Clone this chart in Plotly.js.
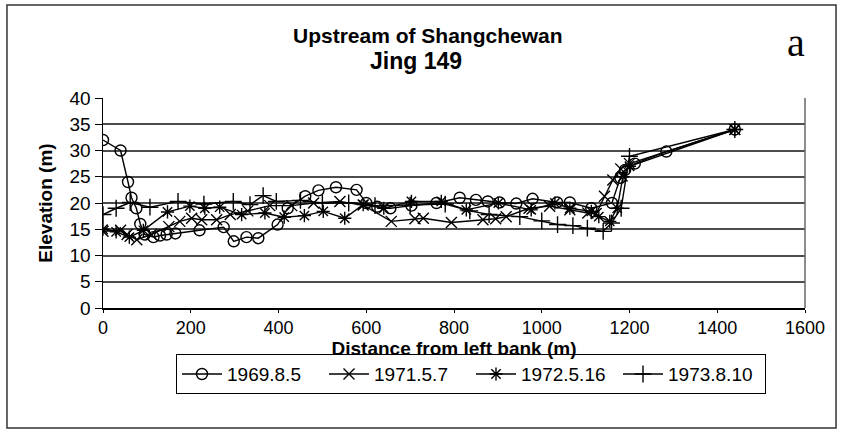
<!DOCTYPE html>
<html>
<head>
<meta charset="utf-8">
<script src="https://cdn.plot.ly/plotly-3.0.1.min.js"></script>
<style>
  html, body { margin: 0; padding: 0; background: #fff; }
  #chart { width: 841px; height: 436px; }
</style>
</head>
<body>
<div id="chart"></div>
<script>
// Cross-section survey profiles, Jing 149 (distance in m, elevation in m)
const seriesNames = ['1969.8.5', '1971.5.7', '1972.5.16', '1973.8.10'];

const dist1969 = [0, 40, 57, 65, 76, 85, 95, 115, 130, 145, 165, 220, 275, 298, 327, 354, 398, 421, 461, 491, 531, 578, 600, 625, 655, 703, 760, 813, 850, 877, 904, 942, 979, 1035, 1064, 1113, 1160, 1179, 1190, 1212, 1284, 1440];
const elev1969 = [32, 30, 24, 21, 19, 16, 14, 13.5, 13.8, 14, 14.2, 14.8, 15.4, 12.7, 13.5, 13.3, 15.9, 19, 21.3, 22.4, 23, 22.5, 20, 19.3, 19, 19.5, 20, 21, 20.6, 20.3, 20.1, 19.9, 20.8, 20.1, 20.1, 19, 20, 24.8, 26.3, 27.5, 29.8, 34];

const dist1971 = [0, 40, 55, 77, 110, 150, 175, 202, 225, 259, 290, 330, 380, 430, 480, 540, 593, 657, 711, 730, 794, 866, 895, 919, 971, 1018, 1064, 1105, 1124, 1143, 1162, 1180, 1200, 1440];
const elev1971 = [14.6, 14.8, 14, 13, 14, 15.5, 16.5, 17.1, 16.8, 16.8, 17.8, 18.5, 19.5, 19.5, 20, 20.3, 19.6, 16.5, 17, 17.1, 16.3, 16.8, 17, 17.4, 19, 19.4, 18.7, 18.1, 18, 21.3, 24.4, 26.5, 27.5, 34];

const dist1972 = [0, 30, 60, 92, 147, 198, 232, 266, 316, 369, 413, 459, 502, 551, 593, 640, 703, 771, 828, 901, 976, 1030, 1064, 1113, 1130, 1155, 1172, 1185, 1200, 1440];
const elev1972 = [15, 14.5, 13.5, 14.8, 18.3, 19.4, 19, 19.2, 17.8, 18.1, 17.3, 17.6, 18.4, 17.1, 19.7, 19, 20.3, 20.3, 18.7, 20, 18.7, 20, 19, 18.4, 17.4, 16.5, 19, 25, 27, 34];

const dist1973 = [0, 30, 62, 107, 171, 230, 297, 335, 365, 395, 450, 500, 560, 620, 700, 780, 836, 880, 950, 1000, 1036, 1071, 1104, 1140, 1159, 1181, 1200, 1440];
const elev1973 = [17.8, 19, 20.1, 19.2, 20.3, 19.8, 20.3, 19.7, 21.4, 20.3, 20.5, 20, 20, 19.5, 19.6, 19.8, 18.5, 17.8, 17.4, 16.6, 15.9, 15.7, 15.2, 14.6, 16.2, 19, 28.9, 34];

const xTicks = [0, 200, 400, 600, 800, 1000, 1200, 1400, 1600];
const yTicks = [0, 5, 10, 15, 20, 25, 30, 35, 40];

const symbols = ['circle-open', 'x-thin-open', 'asterisk-open', 'cross-thin-open'];
const sizes = [11, 11, 11, 12];
const xs = [dist1969, dist1971, dist1972, dist1973];
const ys = [elev1969, elev1971, elev1972, elev1973];

const traces = seriesNames.map((name, i) => ({
  type: 'scatter',
  mode: 'lines+markers',
  name: name,
  x: xs[i],
  y: ys[i],
  line: { color: '#000', width: 1.4 },
  marker: { symbol: symbols[i], size: sizes[i], color: '#000', line: { color: '#000', width: 1.4 } }
}));

const font = 'Liberation Sans, Arial, sans-serif';

const layout = {
  width: 841,
  height: 436,
  paper_bgcolor: '#fff',
  plot_bgcolor: '#fff',
  margin: { l: 103, r: 36, t: 98, b: 128 },
  showlegend: true,
  font: { family: font, color: '#000', size: 18 },
  xaxis: {
    range: [0, 1600],
    tickvals: xTicks,
    ticktext: xTicks.map(String),
    showgrid: false,
    zeroline: false,
    showline: true,
    linecolor: '#000',
    linewidth: 1.5,
    ticks: 'outside',
    ticklen: 3,
    tickcolor: '#000',
    tickfont: { size: 18, family: font },
    title: { text: '<b>Distance from left bank (m)</b>', font: { size: 19, family: font }, standoff: 0 }
  },
  yaxis: {
    range: [0, 40],
    tickvals: yTicks,
    ticktext: yTicks.map(String),
    showgrid: true,
    gridcolor: '#4d4d4d',
    gridwidth: 2,
    zeroline: false,
    showline: true,
    linecolor: '#000',
    linewidth: 1.5,
    ticks: 'outside',
    ticklen: 7,
    tickcolor: '#000',
    tickfont: { size: 19, family: font },
    title: { text: '<b>Elevation (m)</b>', font: { size: 19, family: font }, standoff: 12 }
  },
  legend: {
    orientation: 'h',
    x: (471 - 103) / 702,
    xanchor: 'center',
    y: -0.315,
    yanchor: 'middle',
    bordercolor: '#000',
    borderwidth: 1,
    bgcolor: '#fff',
    font: { size: 19, family: font },
    itemwidth: 40,
    entrywidth: 92
  },
  shapes: [
    // outer frame around the whole figure
    { type: 'rect', xref: 'paper', yref: 'paper', x0: -0.1368, x1: 1.0442, y0: -0.5714, y1: 1.4429,
      line: { color: '#333', width: 1.5 }, fillcolor: 'rgba(0,0,0,0)' },
    // right edge of the plotting area
    { type: 'line', xref: 'paper', yref: 'paper', x0: 1, x1: 1, y0: 0, y1: 1,
      line: { color: '#666', width: 1.5 } }
  ],
  annotations: [
    { text: '<b>Upstream of Shangchewan</b>', xref: 'paper', yref: 'paper',
      x: (428 - 103) / 702, y: (308 - 36) / 210, xanchor: 'center', yanchor: 'middle',
      showarrow: false, font: { size: 21, family: font } },
    { text: '<b>Jing 149</b>', xref: 'paper', yref: 'paper',
      x: (416 - 103) / 702, y: (308 - 61) / 210, xanchor: 'center', yanchor: 'middle',
      showarrow: false, font: { size: 23, family: font } },
    { text: 'a', xref: 'paper', yref: 'paper',
      x: (796 - 103) / 702, y: (308 - 42) / 210, xanchor: 'center', yanchor: 'middle',
      showarrow: false, font: { size: 40, family: 'Liberation Serif, Times New Roman, serif' } }
  ]
};

Plotly.newPlot('chart', traces, layout, { displayModeBar: false, staticPlot: true });
</script>
</body>
</html>
